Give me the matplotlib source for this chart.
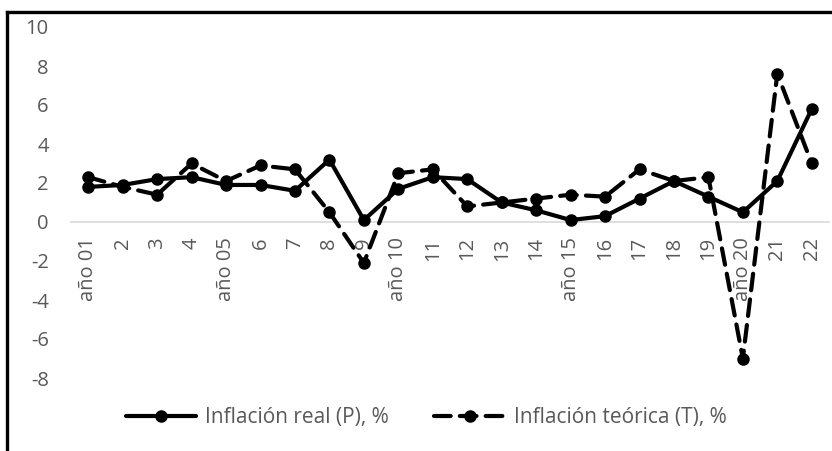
# inflacion real vs teorica, 2001-2022
import numpy as np
import matplotlib.pyplot as plt
from matplotlib.lines import Line2D

plt.rcParams['font.family'] = ['Open Sans', 'DejaVu Sans']
plt.rcParams['axes.unicode_minus'] = False

years = ['año 01', '2', '3', '4', 'año 05', '6', '7', '8', '9', 'año 10',
         '11', '12', '13', '14', 'año 15', '16', '17', '18', '19', 'año 20',
         '21', '22']
real = [1.8, 1.9, 2.2, 2.3, 1.9, 1.9, 1.6, 3.2, 0.1, 1.7,
        2.3, 2.2, 1.0, 0.6, 0.1, 0.3, 1.2, 2.1, 1.3, 0.5,
        2.1, 5.8]
teorica = [2.3, 1.8, 1.4, 3.0, 2.1, 2.9, 2.7, 0.5, -2.1, 2.5,
           2.7, 0.8, 1.0, 1.2, 1.4, 1.3, 2.7, 2.1, 2.3, -7.0,
           7.6, 3.0]
yticks = [-8, -6, -4, -2, 0, 2, 4, 6, 8, 10]

gray = '#595959'

fig = plt.figure(figsize=(8.32, 4.51), dpi=100)
ax = fig.add_axes([71/832, 1-417/451, (829-71)/832, (417-27)/451])

x = np.arange(len(years))
ax.plot(x, real, color='black', lw=3, marker='o', ms=8,
        solid_capstyle='round', solid_joinstyle='round',
        label='Inflación real (P), %')
ax.plot(x, teorica, color='black', lw=3, marker='o', ms=8,
        dashes=(4, 2.2), dash_capstyle='round',
        label='Inflación teórica (T), %')

for s in ['top', 'right', 'left']:
    ax.spines[s].set_visible(False)
ax.spines['bottom'].set_position(('data', 0))
ax.spines['bottom'].set_color('#D9D9D9')
ax.spines['bottom'].set_linewidth(1.2)
ax.spines['bottom'].set_zorder(0)

ax.set_xlim(-0.5, len(years)-0.5)
ax.set_ylim(-10, 10)
ax.set_yticks(yticks)
ax.set_xticks(x)
ax.set_xticklabels(years)
ax.tick_params(axis='y', length=0, pad=16, labelsize=14.5, labelcolor=gray)
ax.tick_params(axis='x', length=0, pad=11, labelsize=14.5, labelcolor=gray,
               labelrotation=90)

fig.legend(loc='center', bbox_to_anchor=(426/832, 1-418/451), ncol=2,
           frameon=False, fontsize=15, labelcolor=gray, handlelength=3.4,
           handletextpad=0.4, columnspacing=2.2)

# frame of the chart (only left and top visible)
fig.add_artist(Line2D([7/832, 7/832], [0, 1-12/451], color='black', lw=2.4,
                      transform=fig.transFigure))
fig.add_artist(Line2D([7/832, 1], [1-12/451, 1-12/451], color='black', lw=2.4,
                      transform=fig.transFigure))

plt.savefig('out.png', dpi=100)
